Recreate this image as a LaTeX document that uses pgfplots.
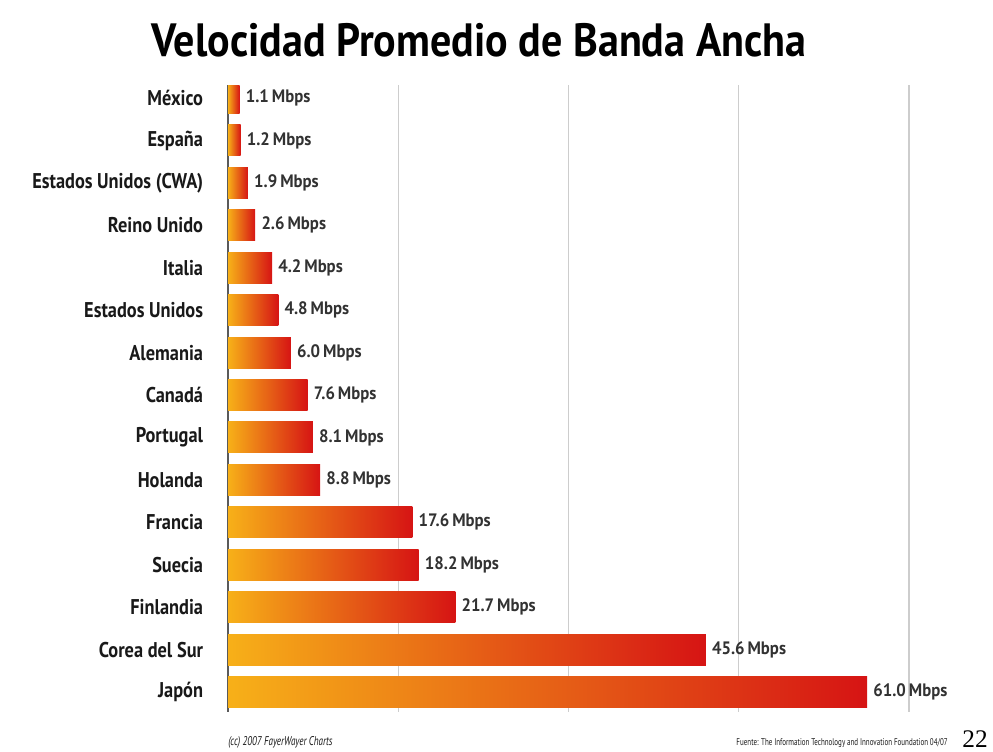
\documentclass[border=0pt]{standalone}
\usepackage{fontspec}
\setmainfont{PT Sans}
\newfontfamily\condfont[FakeStretch=0.86]{PT Sans}
\newfontfamily\titlefont[FakeStretch=0.9]{PT Sans}
\newfontfamily\valfont[FakeStretch=0.93]{PT Sans}
\newfontfamily\footfont[FakeStretch=0.72]{PT Sans}
\newfontfamily\pagefont{Liberation Serif}
\usepackage{pgfplots}
\pgfplotsset{compat=1.18}

\definecolor{barL}{RGB}{247,176,24}
\definecolor{barR}{RGB}{214,20,20}
\definecolor{gridc}{RGB}{205,205,205}
\definecolor{axisc}{RGB}{90,90,90}
\definecolor{txt}{RGB}{25,25,25}
\definecolor{valc}{RGB}{50,50,50}

\pgfplotsset{bshade/.style={xbar, bar shift=0pt, draw=none, left color=barL, right color=barR}}

\begin{document}
\begin{tikzpicture}
% 1 px of the reference = 0.75pt
\path[use as bounding box] (0,0) rectangle (744.75pt,563.25pt);
\begin{axis}[
  at={(171pt,29.25pt)}, anchor=south west,
  scale only axis, width=510.75pt, height=470.25pt,
  xbar, bar width=0.73,
  xmin=0, xmax=65,
  ymin=0.694, ymax=15.47, y dir=reverse,
  axis line style={draw=none},
  major tick length=0pt,
  xtick={16.25,32.5,48.75,65}, xticklabels={},
  xmajorgrids, grid style={gridc, line width=0.9pt},
  extra x ticks={0}, extra x tick labels={},
  extra x tick style={grid style={axisc, line width=1.3pt}},
  ytick={1,...,15},
  yticklabels={México,España,Estados Unidos (CWA),Reino Unido,Italia,Estados Unidos,Alemania,Canadá,Portugal,Holanda,Francia,Suecia,Finlandia,Corea del Sur,Japón},
  yticklabel style={font=\condfont\bfseries\fontsize{16}{18}\selectfont, text=txt, inner sep=0pt, xshift=-18.5pt},
  point meta=x,
  /pgf/number format/assume math mode=true,
  nodes near coords={\pgfmathprintnumber[fixed,fixed zerofill,precision=1]{\pgfplotspointmeta}\,Mbps},
  nodes near coords align=horizontal,
  every node near coord/.append style={font=\valfont\bfseries\fontsize{13.5}{14}\selectfont, text=valc, inner sep=4.5pt},
]
\addplot[bshade] coordinates {(1.1,1)};
\addplot[bshade] coordinates {(1.2,2)};
\addplot[bshade] coordinates {(1.9,3)};
\addplot[bshade] coordinates {(2.6,4)};
\addplot[bshade] coordinates {(4.2,5)};
\addplot[bshade] coordinates {(4.8,6)};
\addplot[bshade] coordinates {(6.0,7)};
\addplot[bshade] coordinates {(7.6,8)};
\addplot[bshade] coordinates {(8.1,9)};
\addplot[bshade] coordinates {(8.8,10)};
\addplot[bshade] coordinates {(17.6,11)};
\addplot[bshade] coordinates {(18.2,12)};
\addplot[bshade] coordinates {(21.7,13)};
\addplot[bshade] coordinates {(45.6,14)};
\addplot[bshade] coordinates {(61.0,15)};
\end{axis}
\node[anchor=base, font=\titlefont\bfseries\fontsize{35}{38}\selectfont, text=black] at (359.25pt,521pt) {Velocidad Promedio de Banda Ancha};
\node[anchor=base west, inner sep=0pt, font=\footfont\itshape\fontsize{9.5}{10}\selectfont, text=txt] at (171pt,4.5pt) {(cc) 2007 FayerWayer Charts};
\node[anchor=base east, inner sep=0pt, font=\footfont\fontsize{7.3}{8}\selectfont, text=txt] at (711pt,4.5pt) {Fuente: The Information Technology and Innovation Foundation 04/07};
\node[anchor=base east, inner sep=0pt, font=\pagefont\fontsize{19}{20}\selectfont] at (741pt,3pt) {22};
\end{tikzpicture}
\end{document}
